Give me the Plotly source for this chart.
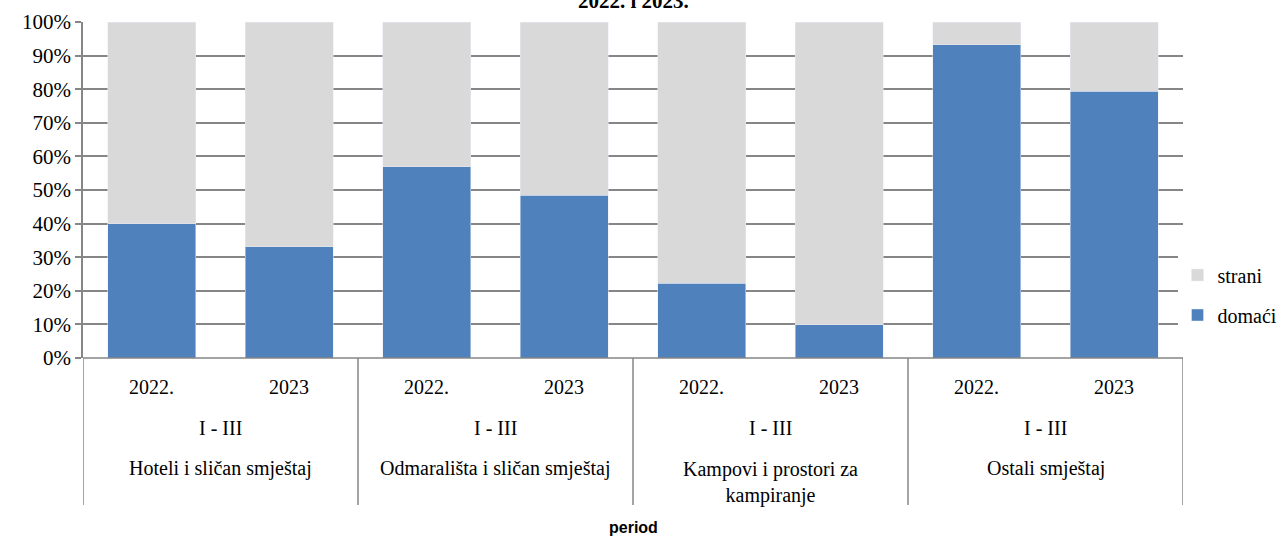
import plotly.graph_objects as go

years = ["2022.", "2023", "2022.", "2023", "2022.", "2023", "2022.", "2023"]
period = "I - III"
groups = ["Hoteli i sličan smještaj", "Odmarališta i sličan smještaj",
          "Kampovi i prostori za<br>kampiranje", "Ostali smještaj"]
domaci = [40.0, 33.1, 56.9, 48.5, 22.3, 9.9, 93.2, 79.4]
strani = [round(100 - v, 1) for v in domaci]
title_line = "2022. i 2023."

BLUE = "#4F81BD"
GRAY = "#D9D9D9"
LINE = "#868686"
SERIF = "Liberation Serif"
FS = 20

xs = list(range(len(years)))
fig = go.Figure()
fig.add_trace(go.Bar(x=xs, y=domaci, name="domaći", marker_color=BLUE,
                     legendgroup="d", legendrank=2))
fig.add_trace(go.Bar(x=xs, y=strani, name="strani", marker_color=GRAY,
                     legendgroup="s", legendrank=1))

PH = 336.0  # plot height px
def py(pix):  # pixel (from top of figure) -> paper y
    return (358 - pix) / PH

ann = []
for i, yr in enumerate(years):
    ann.append(dict(x=i, y=py(387), text=yr, xref="x", yref="paper", showarrow=False,
                    font=dict(family=SERIF, size=FS, color="#000"), yanchor="middle"))
for g, name in enumerate(groups):
    cx = 2 * g + 0.5
    ann.append(dict(x=cx, y=py(428), text=period, xref="x", yref="paper", showarrow=False,
                    font=dict(family=SERIF, size=FS, color="#000"), yanchor="middle"))
    two = "<br>" in name
    ann.append(dict(x=cx, y=py(456) if two else py(468), text=name, xref="x", yref="paper",
                    showarrow=False, font=dict(family=SERIF, size=FS, color="#000"),
                    yanchor="top" if two else "middle"))
ann.append(dict(x=0.5, y=py(527), text="<b>period</b>", xref="paper", yref="paper", showarrow=False,
                font=dict(family="Liberation Sans", size=16, color="#000"), yanchor="middle"))
ann.append(dict(x=0.5, y=py(1), text="<b>" + title_line + "</b>", xref="paper", yref="paper",
                showarrow=False, font=dict(family=SERIF, size=21, color="#000"), yanchor="middle"))

shapes = []
for b in [-0.5, 1.5, 3.5, 5.5, 7.5]:
    shapes.append(dict(type="line", xref="x", yref="paper", x0=b, x1=b, y0=0, y1=py(505),
                       line=dict(color=LINE, width=1.5)))
shapes.append(dict(type="line", xref="x", yref="paper", x0=-0.5, x1=7.5, y0=0, y1=0,
                   line=dict(color=LINE, width=1.5)))

fig.update_layout(
    width=1277, height=537,
    margin=dict(l=83, r=94, t=22, b=179, autoexpand=False),
    barmode="stack", bargap=0.36,
    plot_bgcolor="white", paper_bgcolor="white",
    font=dict(family=SERIF, size=FS, color="#000"),
    legend=dict(traceorder="grouped", x=0.995, y=py(295), yanchor="middle", xanchor="left",
                font=dict(family=SERIF, size=FS), itemwidth=30, tracegroupgap=11),
    annotations=ann, shapes=shapes, showlegend=True,
)
fig.update_xaxes(range=[-0.5, 7.5], showticklabels=False, showgrid=False, zeroline=False,
                 showline=False, ticks="")
fig.update_yaxes(range=[0, 100], dtick=10, ticksuffix="%", showgrid=True, gridcolor=LINE,
                 gridwidth=1.5, showline=True, linecolor=LINE, linewidth=1.5, ticks="outside",
                 ticklen=6, tickcolor=LINE, tickwidth=1.5, zeroline=False,
                 tickfont=dict(family=SERIF, size=21))

fig.write_html("out.html", config={"displayModeBar": False},
               post_script="document.body.style.margin='0';")
